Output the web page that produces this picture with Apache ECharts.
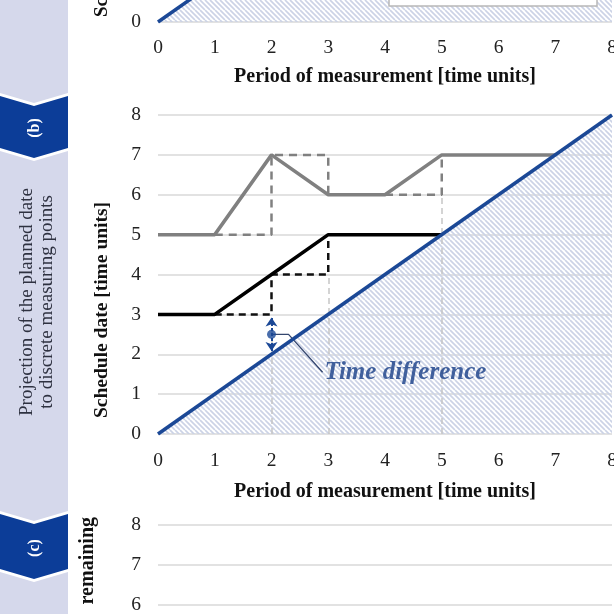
<!DOCTYPE html>
<html>
<head>
<meta charset="utf-8">
<script src="https://cdn.jsdelivr.net/npm/echarts@6/dist/echarts.min.js"></script>
<style>
html,body{margin:0;padding:0;background:#fff;}
#chart{width:614px;height:614px;}
</style>
</head>
<body>
<div id="chart"></div>
<script>
// ---------- data ----------
const xTickLabels = ['0','1','2','3','4','5','6','7','8'];
const yTickLabels = ['0','1','2','3','4','5','6','7','8'];
// planned date (grey) and projected/actual (black) schedule lines in panel (b)
const greyX = [0, 1, 2, 3, 4, 5, 7];
const greyY = [5, 5, 7, 6, 6, 7, 7];
const blackX = [0, 1, 2, 3, 5];
const blackY = [3, 3, 4, 5, 5];
// dashed projections to the discrete measuring points
const greyProjA = [[1, 5], [2, 5], [2, 7], [3, 7], [3, 6]];
const greyProjB = [[4, 6], [5, 6], [5, 7]];
const blackProj = [[1, 3], [2, 3], [2, 4], [3, 4], [3, 5]];
// measuring points and the top of the light dashed guide in panel (b)
const measurePoints = [2, 3, 5];
const guideTop = [3, 4, 6];
// reference diagonal (schedule date = period)
const diagonal = [[0, 0], [8, 8]];
// time difference annotation
const diffAt = 2, diffFrom = 2, diffTo = 3, diffDot = 2.5;
const leader = [[2, 2.5], [2.3, 2.5], [2.9, 1.55]];
const diffLabel = 'Time difference';

// ---------- styling helpers ----------
const SERIF = "'Liberation Serif','Times New Roman',serif";
const GRID_C = '#d9d9d9';
const BLUE = '#1b4896';
const GREY = '#808080';

function hatch() {
  const c = document.createElement('canvas');
  c.width = 10; c.height = 10;
  const g = c.getContext('2d');
  g.strokeStyle = '#ccd3e6';
  g.lineWidth = 1.7;
  for (let k = -10; k <= 10; k += 5) {
    g.beginPath(); g.moveTo(k, 0); g.lineTo(k + 10, 10); g.stroke();
  }
  return c;
}
const hatchPattern = { image: hatch(), repeat: 'repeat' };

const pairs = (xs, ys) => xs.map((x, i) => [x, ys[i]]);

function xAxisFor(grid, showName, gap, margin) {
  return {
    gridIndex: grid, type: 'value', min: 0, max: 8, interval: 1,
    axisLine: { show: false }, axisTick: { show: false },
    splitLine: { show: false },
    axisLabel: { show: showName, margin: margin, color: '#222', fontFamily: SERIF, fontSize: 19.5,
      formatter: v => xTickLabels[v] },
    name: showName ? 'Period of measurement [time units]' : '',
    nameLocation: 'middle', nameGap: gap,
    nameTextStyle: { fontFamily: SERIF, fontSize: 20, fontWeight: 'bold', color: '#111' }
  };
}
function yAxisFor(grid) {
  return {
    gridIndex: grid, type: 'value', min: 0, max: 8, interval: 1,
    axisLine: { show: false }, axisTick: { show: false },
    splitLine: { show: true, lineStyle: { color: GRID_C, width: 1.5 } },
    axisLabel: { margin: 17, color: '#222', fontFamily: SERIF, fontSize: 19.5,
      formatter: v => yTickLabels[v] }
  };
}

const chart = echarts.init(document.getElementById('chart'), null, { renderer: 'canvas' });

const gridCommon = { left: 158, right: 2, height: 319, containLabel: false, outerBoundsMode: 'none' };

const series = [
  // panel (a): hatched region and diagonal
  { type: 'line', xAxisIndex: 0, yAxisIndex: 0, data: diagonal, symbol: 'none', z: 1,
    lineStyle: { width: 0 }, areaStyle: { color: hatchPattern, opacity: 1 } },
  { type: 'line', xAxisIndex: 0, yAxisIndex: 0, data: diagonal, symbol: 'none', z: 6,
    lineStyle: { color: BLUE, width: 3.5 } },

  // panel (b)
  { type: 'line', xAxisIndex: 1, yAxisIndex: 1, data: diagonal, symbol: 'none', z: 1,
    lineStyle: { width: 0 }, areaStyle: { color: hatchPattern, opacity: 1 },
    markLine: { silent: true, symbol: 'none', label: { show: false },
      lineStyle: { color: '#c6c6c6', width: 1.5, type: [6, 4] },
      data: measurePoints.map((x, i) => [{ coord: [x, 0] }, { coord: [x, guideTop[i]] }]) } },
  { type: 'line', xAxisIndex: 1, yAxisIndex: 1, data: greyProjA, symbol: 'none', z: 3,
    lineStyle: { color: GREY, width: 2.5, type: [8, 6] } },
  { type: 'line', xAxisIndex: 1, yAxisIndex: 1, data: greyProjB, symbol: 'none', z: 3,
    lineStyle: { color: GREY, width: 2.5, type: [8, 6] } },
  { type: 'line', xAxisIndex: 1, yAxisIndex: 1, data: blackProj, symbol: 'none', z: 3,
    lineStyle: { color: '#111', width: 2.5, type: [7, 5] } },
  { type: 'line', xAxisIndex: 1, yAxisIndex: 1, data: pairs(greyX, greyY), symbol: 'none', z: 4,
    lineStyle: { color: GREY, width: 3.5 } },
  { type: 'line', xAxisIndex: 1, yAxisIndex: 1, data: pairs(blackX, blackY), symbol: 'none', z: 4,
    lineStyle: { color: '#000', width: 3.5 } },
  { type: 'line', xAxisIndex: 1, yAxisIndex: 1, data: diagonal, symbol: 'none', z: 6,
    lineStyle: { color: BLUE, width: 3.5 },
    markLine: { silent: true, symbol: ['arrow', 'arrow'], symbolSize: [9, 9], label: { show: false },
      lineStyle: { color: BLUE, width: 2, type: [3, 2] },
      data: [[{ coord: [diffAt, diffFrom + 0.08] }, { coord: [diffAt, diffTo - 0.08] }]] } },
  { type: 'line', xAxisIndex: 1, yAxisIndex: 1, data: leader, symbol: 'none', z: 5,
    lineStyle: { color: '#34466e', width: 1.3 } },
  { type: 'scatter', xAxisIndex: 1, yAxisIndex: 1, data: [[diffAt, diffDot]], symbolSize: 9, z: 7,
    itemStyle: { color: BLUE } },
  { type: 'scatter', xAxisIndex: 1, yAxisIndex: 1, data: [leader[leader.length - 1]], symbolSize: 0, z: 7,
    label: { show: true, position: 'right', distance: 2, formatter: diffLabel,
      fontFamily: SERIF, fontSize: 25, fontWeight: 'bold', fontStyle: 'italic', color: '#163d87' } },

  // panel (c): only light measuring-point guides visible
  { type: 'line', xAxisIndex: 2, yAxisIndex: 2, data: [], symbol: 'none',
    markLine: { silent: true, symbol: 'none', label: { show: false },
      lineStyle: { color: '#c6c6c6', width: 1.5, type: [6, 4] },
      data: measurePoints.map(x => [{ coord: [x, 0] }, { coord: [x, 8.05] }]) } }
];

const sidebarFill = '#d5d8eb';
const badgeFill = '#0c3d98';

chart.setOption({
  animation: false,
  backgroundColor: '#fff',
  grid: [
    Object.assign({ top: -297 }, gridCommon),
    Object.assign({ top: 115 }, gridCommon),
    Object.assign({ top: 525 }, gridCommon)
  ],
  xAxis: [xAxisFor(0, true, 45, 16), xAxisFor(1, true, 48, 17), xAxisFor(2, false, 0, 17)],
  yAxis: [yAxisFor(0), yAxisFor(1), yAxisFor(2)],
  series: series,
  graphic: [
    // side bar
    { type: 'polygon', shape: { points: [[0,0],[68,0],[68,93],[34,103],[0,93]] }, style: { fill: sidebarFill } },
    { type: 'polygon', shape: { points: [[0,96],[34,106],[68,96],[68,148],[34,158],[0,148]] }, style: { fill: badgeFill } },
    { type: 'polygon', shape: { points: [[0,151],[34,161],[68,151],[68,511],[34,521],[0,511]] }, style: { fill: sidebarFill } },
    { type: 'polygon', shape: { points: [[0,514],[34,524],[68,514],[68,569],[34,579],[0,569]] }, style: { fill: badgeFill } },
    { type: 'polygon', shape: { points: [[0,572],[34,582],[68,572],[68,614],[0,614]] }, style: { fill: sidebarFill } },
    { type: 'text', x: 35, y: 128, rotation: Math.PI / 2,
      style: { text: '(b)', fill: '#fff', font: 'bold 16px ' + SERIF, textAlign: 'center', textVerticalAlign: 'middle' } },
    { type: 'text', x: 35, y: 548, rotation: Math.PI / 2,
      style: { text: '(c)', fill: '#fff', font: 'bold 16px ' + SERIF, textAlign: 'center', textVerticalAlign: 'middle' } },
    { type: 'text', x: 37, y: 302, rotation: Math.PI / 2,
      style: { text: 'Projection of the planned date\nto discrete measuring points', fill: '#2e3140',
        font: '19px ' + SERIF, lineHeight: 20, textAlign: 'center', textVerticalAlign: 'middle' } },
    // y-axis titles
    { type: 'text', x: 102, y: 17, rotation: Math.PI / 2,
      style: { text: 'Schedule date [time units]', fill: '#111', font: 'bold 19px ' + SERIF,
        textAlign: 'left', textVerticalAlign: 'middle' } },
    { type: 'text', x: 102, y: 310, rotation: Math.PI / 2,
      style: { text: 'Schedule date [time units]', fill: '#111', font: 'bold 19.5px ' + SERIF,
        textAlign: 'center', textVerticalAlign: 'middle' } },
    { type: 'text', x: 88, y: 517, rotation: Math.PI / 2,
      style: { text: 'remaining', fill: '#111', font: 'bold 20px ' + SERIF,
        textAlign: 'right', textVerticalAlign: 'middle' } },
    // legend box of panel (a), cut by the frame
    { type: 'rect', shape: { x: 389, y: -40, width: 208, height: 46 }, z: 10,
      style: { fill: '#fff', stroke: '#b8b8b8', lineWidth: 1.5 } }
  ]
});
</script>
</body>
</html>
